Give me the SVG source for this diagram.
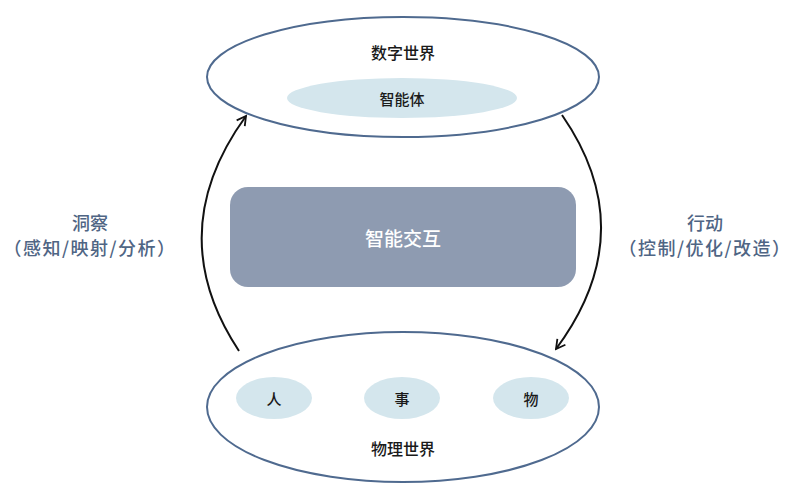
<svg xmlns="http://www.w3.org/2000/svg" width="800" height="500" viewBox="0 0 800 500">
<style>
.world{fill:#ffffff;stroke:#4f6a8f;stroke-width:2}
.sub{fill:#d4e6ed}
.t{font-family:"Noto Sans CJK SC","Noto Sans",sans-serif;fill:#1a1a1a;text-anchor:middle;dominant-baseline:central;font-weight:500}
.lbl{font-family:"Noto Sans CJK SC","Noto Sans",sans-serif;fill:#4f6584;text-anchor:middle;dominant-baseline:central;font-size:18px;font-weight:500}
.arr{fill:none;stroke:#111111;stroke-width:2;marker-end:url(#ah)}
</style>
<defs>
<marker id="ah" viewBox="0 0 12 12" refX="10" refY="6" markerWidth="12" markerHeight="12" markerUnits="userSpaceOnUse" orient="auto">
<path d="M1,1 L10,6 L1,11" fill="none" stroke="#111111" stroke-width="1.8"/>
</marker>
</defs>
<rect width="800" height="500" fill="#ffffff"/>
<g id="digital-world">
<ellipse class="world" cx="403" cy="77" rx="196" ry="60"/>
<text class="t" x="403" y="52" font-size="16">数字世界</text>
</g>
<g id="agent">
<ellipse class="sub" cx="402" cy="98" rx="115" ry="20"/>
<text class="t" x="402" y="98" font-size="15">智能体</text>
</g>
<g id="interaction">
<rect x="230" y="187" width="346" height="100" rx="18" fill="#8e9bb1"/>
<text class="t" x="403" y="237" font-size="19" style="fill:#ffffff">智能交互</text>
</g>
<g id="physical-world">
<ellipse class="world" cx="403" cy="407" rx="196" ry="75"/>
<text class="t" x="403" y="448" font-size="16">物理世界</text>
</g>
<g id="person">
<ellipse class="sub" cx="274" cy="398" rx="38" ry="21"/>
<text class="t" x="274" y="398" font-size="15">人</text>
</g>
<g id="event">
<ellipse class="sub" cx="402" cy="398" rx="38" ry="21"/>
<text class="t" x="402" y="398" font-size="15">事</text>
</g>
<g id="object">
<ellipse class="sub" cx="531" cy="398" rx="38" ry="21"/>
<text class="t" x="531" y="398" font-size="15">物</text>
</g>
<g id="connectors">
<path class="arr" d="M239,351 Q161,233 246,116"/>
<path class="arr" d="M562,115 Q643,232 556,349"/>
</g>
<g id="label-insight">
<text class="lbl" x="90" y="222">洞察</text>
<text class="lbl" x="90" y="247" letter-spacing="1.5">（感知/映射/分析）</text>
</g>
<g id="label-action">
<text class="lbl" x="705" y="222">行动</text>
<text class="lbl" x="705" y="247" letter-spacing="1.5">（控制/优化/改造）</text>
</g>
</svg>
